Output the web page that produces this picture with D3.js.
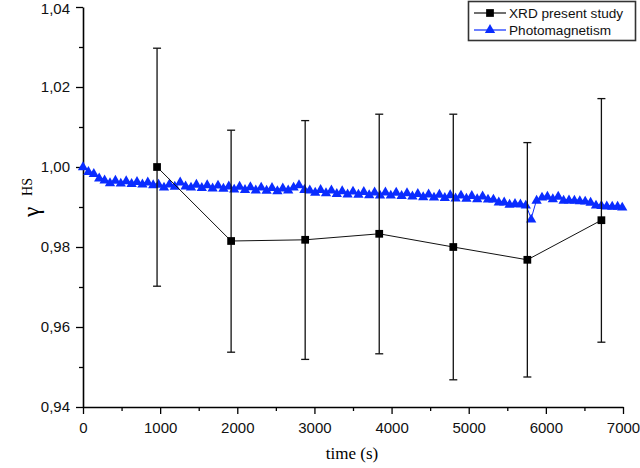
<!DOCTYPE html>
<html>
<head>
<meta charset="utf-8">
<script src="https://cdn.jsdelivr.net/npm/d3@7"></script>
<style>
  body { margin: 0; background: #fff; }
  svg { display: block; }
</style>
</head>
<body>
<div id="container"></div>
<script>
const width = 640;
const height = 468;

// XRD present study
const xrdTime = [960, 1920, 2880, 3840, 4800, 5760, 6720];
const xrdGamma = [1.0000, 0.9815, 0.9818, 0.9833, 0.9800, 0.9768, 0.9867];
const xrdHigh = [1.0297, 1.0092, 1.0116, 1.0132, 1.0132, 1.0061, 1.0171];
const xrdLow = [0.9702, 0.9537, 0.9519, 0.9533, 0.9468, 0.9475, 0.9562];

// Photomagnetism
const photoTime = [0, 70, 140, 210, 280, 350, 420, 490, 560, 630,
    700, 770, 840, 910, 980, 1050, 1120, 1190, 1260, 1330,
    1400, 1470, 1540, 1610, 1680, 1750, 1820, 1890, 1960, 2030,
    2100, 2170, 2240, 2310, 2380, 2450, 2520, 2590, 2660, 2730,
    2800, 2870, 2940, 3010, 3080, 3150, 3220, 3290, 3360, 3430,
    3500, 3570, 3640, 3710, 3780, 3850, 3920, 3990, 4060, 4130,
    4200, 4270, 4340, 4410, 4480, 4550, 4620, 4690, 4760, 4830,
    4900, 4970, 5040, 5110, 5180, 5250, 5320, 5390, 5460, 5530,
    5600, 5670, 5740, 5810, 5880, 5950, 6020, 6090, 6160, 6230,
    6300, 6370, 6440, 6510, 6580, 6650, 6720, 6790, 6860, 6930, 6990];
const photoGamma = [1.0002, 0.9990, 0.9985, 0.9974, 0.9969, 0.9962, 0.9968, 0.9961, 0.9967, 0.9960,
    0.9965, 0.9959, 0.9964, 0.9957, 0.9958, 0.9951, 0.9959, 0.9953, 0.9964, 0.9954,
    0.9951, 0.9958, 0.9950, 0.9957, 0.9949, 0.9956, 0.9948, 0.9954, 0.9946, 0.9953,
    0.9945, 0.9952, 0.9944, 0.9951, 0.9943, 0.9950, 0.9942, 0.9949, 0.9944, 0.9951,
    0.9957, 0.9945, 0.9944, 0.9938, 0.9945, 0.9937, 0.9944, 0.9935, 0.9942, 0.9934,
    0.9941, 0.9933, 0.9940, 0.9932, 0.9939, 0.9931, 0.9939, 0.9931, 0.9938, 0.9930,
    0.9937, 0.9929, 0.9935, 0.9927, 0.9934, 0.9926, 0.9933, 0.9925, 0.9932, 0.9924,
    0.9931, 0.9923, 0.9930, 0.9922, 0.9929, 0.9921, 0.9921, 0.9914, 0.9914, 0.9908,
    0.9910, 0.9909, 0.9906, 0.9871, 0.9918, 0.9926, 0.9928, 0.9922, 0.9928, 0.9918,
    0.9919, 0.9918, 0.9917, 0.9916, 0.9913, 0.9906, 0.9905, 0.9904, 0.9903, 0.9903, 0.9901];

const xTicks = [0, 1000, 2000, 3000, 4000, 5000, 6000, 7000];
const xMinorTicks = [500, 1500, 2500, 3500, 4500, 5500, 6500];
const yTicks = [0.94, 0.96, 0.98, 1.00, 1.02, 1.04];
const yMinorTicks = [0.95, 0.97, 0.99, 1.01, 1.03];

const seriesNames = ['XRD present study', 'Photomagnetism'];

const BLUE = '#0a2cff';
const SANS = '"Liberation Sans", Arial, sans-serif';
const SERIF = '"Liberation Serif", "Times New Roman", serif';

const x = d3.scaleLinear().domain([0, 7000]).range([83, 623]);
const y = d3.scaleLinear().domain([0.94, 1.04]).range([407, 7]);

let svg = d3.select('#container').append('svg')
    .attr('width', width)
    .attr('height', height)
    .style('background', '#fff');

const comma = v => d3.format('.2f')(v).replace('.', ',');

// minor ticks first, then major with labels
svg.append('g')
    .attr('transform', `translate(0,${y(0.94)})`)
    .call(d3.axisBottom(x).tickValues(xMinorTicks).tickSize(4).tickSizeOuter(0).tickFormat(''))
    .call(g => g.select('.domain').remove())
    .selectAll('line').attr('stroke-width', 1.3);

svg.append('g')
    .attr('transform', `translate(${x(0)},0)`)
    .call(d3.axisLeft(y).tickValues(yMinorTicks).tickSize(4).tickSizeOuter(0).tickFormat(''))
    .call(g => g.select('.domain').remove())
    .selectAll('line').attr('stroke-width', 1.3);

let xAxis = svg.append('g')
    .attr('transform', `translate(0,${y(0.94)})`)
    .call(d3.axisBottom(x).tickValues(xTicks).tickSize(7).tickSizeOuter(0).tickPadding(8).tickFormat(d3.format('d')));

let yAxis = svg.append('g')
    .attr('transform', `translate(${x(0)},0)`)
    .call(d3.axisLeft(y).tickValues(yTicks).tickSize(7).tickSizeOuter(0).tickPadding(6).tickFormat(comma));

[xAxis, yAxis].forEach(g => {
    g.select('.domain').attr('stroke-width', 1.6);
    g.selectAll('line').attr('stroke-width', 1.3);
    g.selectAll('text')
        .attr('font-family', SANS)
        .attr('font-size', 15)
        .attr('fill', '#111');
});

// keep the top label inside the picture
yAxis.selectAll('text').filter(d => d === 1.04).attr('dy', '0.45em');

// axis titles
svg.append('text')
    .attr('x', 352)
    .attr('y', 459)
    .attr('text-anchor', 'middle')
    .attr('font-family', SERIF)
    .attr('font-size', 17)
    .text('time (s)');

svg.append('text')
    .attr('transform', 'translate(39,212) rotate(-90)')
    .attr('text-anchor', 'middle')
    .attr('font-family', SERIF)
    .attr('font-size', 23)
    .text('γ');

svg.append('text')
    .attr('transform', 'translate(32,187) rotate(-90)')
    .attr('text-anchor', 'middle')
    .attr('font-family', SERIF)
    .attr('font-size', 14)
    .text('HS');

// photomagnetism series
const photo = photoTime.map((t, i) => ({ t: t, v: photoGamma[i] }));

svg.append('path')
    .datum(photo)
    .attr('fill', 'none')
    .attr('stroke', BLUE)
    .attr('stroke-width', 1)
    .attr('d', d3.line().x(d => x(d.t)).y(d => y(d.v)));

const tri = d3.symbol().type(d3.symbolTriangle).size(46);
svg.append('g')
    .selectAll('path')
    .data(photo)
    .join('path')
    .attr('transform', d => `translate(${x(d.t)},${y(d.v) + 1})`)
    .attr('d', tri)
    .attr('fill', BLUE);

// XRD series
const xrd = xrdTime.map((t, i) => ({ t: t, v: xrdGamma[i], hi: xrdHigh[i], lo: xrdLow[i] }));

let err = svg.append('g')
    .attr('stroke', '#111')
    .attr('stroke-width', 1.3);

err.selectAll('line.bar')
    .data(xrd)
    .join('line')
    .attr('class', 'bar')
    .attr('x1', d => x(d.t)).attr('x2', d => x(d.t))
    .attr('y1', d => y(d.hi)).attr('y2', d => y(d.lo));

err.selectAll('line.cap-hi')
    .data(xrd)
    .join('line')
    .attr('class', 'cap-hi')
    .attr('x1', d => x(d.t) - 4).attr('x2', d => x(d.t) + 4)
    .attr('y1', d => y(d.hi)).attr('y2', d => y(d.hi));

err.selectAll('line.cap-lo')
    .data(xrd)
    .join('line')
    .attr('class', 'cap-lo')
    .attr('x1', d => x(d.t) - 4).attr('x2', d => x(d.t) + 4)
    .attr('y1', d => y(d.lo)).attr('y2', d => y(d.lo));

svg.append('path')
    .datum(xrd)
    .attr('fill', 'none')
    .attr('stroke', '#111')
    .attr('stroke-width', 1)
    .attr('d', d3.line().x(d => x(d.t)).y(d => y(d.v)));

const sq = d3.symbol().type(d3.symbolSquare).size(60);
svg.append('g')
    .selectAll('path')
    .data(xrd)
    .join('path')
    .attr('transform', d => `translate(${x(d.t)},${y(d.v)})`)
    .attr('d', sq)
    .attr('fill', '#000');

// legend
let legend = svg.append('g');
legend.append('rect')
    .attr('x', 468.5).attr('y', 1.5)
    .attr('width', 167).attr('height', 39)
    .attr('fill', '#fff')
    .attr('stroke', '#333')
    .attr('stroke-width', 1.6);

const legendRows = [
    { name: seriesNames[0], color: '#111', sym: sq, cy: 13 },
    { name: seriesNames[1], color: BLUE, sym: tri, cy: 30 }
];

legendRows.forEach(r => {
    legend.append('line')
        .attr('x1', 474).attr('x2', 506)
        .attr('y1', r.cy).attr('y2', r.cy)
        .attr('stroke', r.color)
        .attr('stroke-width', 1.2);
    legend.append('path')
        .attr('transform', `translate(490,${r.cy})`)
        .attr('d', r.sym)
        .attr('fill', r.color === BLUE ? BLUE : '#000');
    legend.append('text')
        .attr('x', 509)
        .attr('y', r.cy + 5)
        .attr('font-family', SANS)
        .attr('font-size', 13.6)
        .attr('fill', '#111')
        .text(r.name);
});
</script>
</body>
</html>
